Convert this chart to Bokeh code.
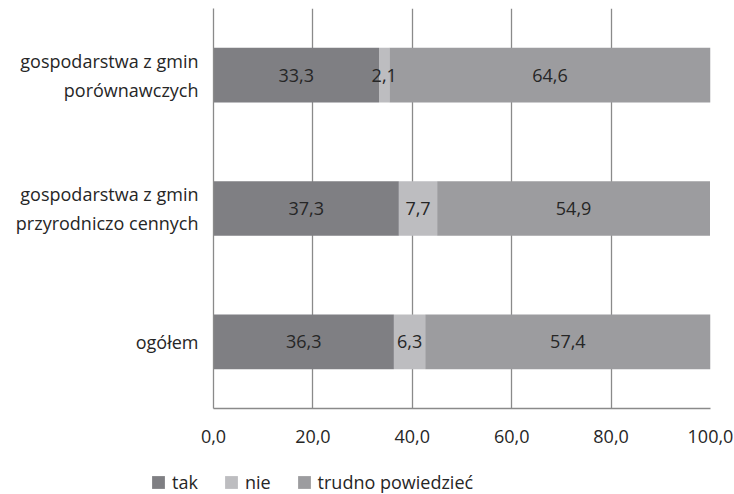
from bokeh.plotting import figure
from bokeh.models import (ColumnDataSource, FixedTicker, CustomJSTickFormatter,
                          Legend, LegendItem, Range1d, FactorRange)
from bokeh.core.properties import value
from bokeh.embed import file_html
from bokeh.resources import INLINE
import numpy as np

categories = ["ogółem",
              "gospodarstwa z gmin\nprzyrodniczo cennych",
              "gospodarstwa z gmin\nporównawczych"]
tak = [36.3, 37.3, 33.3]
nie = [6.3, 7.7, 2.1]
trudno = [57.4, 54.9, 64.6]
series_names = ["tak", "nie", "trudno powiedzieć"]
colors = ["#7f7f83", "#bdbdc0", "#9c9c9f"]
x_ticks = [0, 20, 40, 60, 80, 100]

FONT = "Open Sans"
FS = "18px"
TXT = "#262626"
GRID = "#8a8a8a"

src = ColumnDataSource(dict(cat=categories, tak=tak, nie=nie, trudno=trudno))

p = figure(width=734, height=455, output_backend="svg", toolbar_location=None,
           y_range=FactorRange(factors=categories, range_padding=0),
           x_range=Range1d(0, 100),
           min_border_left=213, min_border_right=24, min_border_top=8,
           min_border_bottom=47)
p.outline_line_color = None
p.background_fill_color = "white"
p.border_fill_color = "white"

rs = p.hbar_stack(["tak", "nie", "trudno"], y="cat", height=0.41, color=colors,
                  line_color=None, source=src)

# labels
t = np.array(tak); n = np.array(nie); tr = np.array(trudno)
centers = np.concatenate([t / 2, t + n / 2, t + n + tr / 2])
vals = np.concatenate([t, n, tr])
lab_src = ColumnDataSource(dict(
    x=centers,
    y=categories * 3,
    text=[f"{v:.1f}".replace(".", ",") for v in vals]))
p.text(x="x", y="y", text="text", source=lab_src, text_align="center",
       text_baseline="middle", text_font=value(FONT), text_font_size=FS,
       text_color=TXT)

# grid
p.ygrid.grid_line_color = None
p.xgrid.ticker = FixedTicker(ticks=x_ticks)
p.xgrid.grid_line_color = GRID
p.xgrid.grid_line_width = 1.3

# x axis
p.xaxis.ticker = FixedTicker(ticks=x_ticks)
p.xaxis.formatter = CustomJSTickFormatter(code="return tick.toFixed(1).replace('.', ',');")
p.xaxis.axis_line_color = GRID
p.xaxis.axis_line_width = 1.3
p.xaxis.major_tick_line_color = None
p.xaxis.minor_tick_line_color = None
p.xaxis.major_tick_out = 0
p.xaxis.major_tick_in = 0
p.xaxis.major_label_standoff = 21
p.xaxis.major_label_text_font = FONT
p.xaxis.major_label_text_font_size = FS
p.xaxis.major_label_text_color = TXT

# y axis
p.yaxis.axis_line_color = GRID
p.yaxis.axis_line_width = 1.3
p.yaxis.major_tick_line_color = None
p.yaxis.minor_tick_line_color = None
p.yaxis.major_tick_out = 0
p.yaxis.major_tick_in = 0
p.yaxis.major_label_standoff = 15
p.yaxis.major_label_text_font = FONT
p.yaxis.major_label_text_font_size = FS
p.yaxis.major_label_text_color = TXT
p.yaxis.major_label_text_align = "right"

# legend strip: a separate small figure under the chart; its renderers reuse
# the same data but are hidden, only their legend entries are shown
p2 = figure(width=734, height=39, output_backend="svg", toolbar_location=None,
            x_range=Range1d(0, 100),
            y_range=FactorRange(factors=categories),
            min_border_left=0, min_border_right=0, min_border_top=0,
            min_border_bottom=0)
p2.axis.visible = False
p2.grid.visible = False
p2.outline_line_color = None
p2.background_fill_color = "white"
p2.border_fill_color = "white"
leg_rs = p2.hbar_stack(["tak", "nie", "trudno"], y="cat", height=0.41, color=colors,
                       line_color=None, source=src)
for r in leg_rs:
    r.visible = False
legend = Legend(items=[LegendItem(label=nm, renderers=[r]) for nm, r in zip(series_names, leg_rs)],
                orientation="horizontal", location=(150, 0),
                glyph_width=16, glyph_height=16, label_standoff=6, spacing=25,
                padding=0, margin=0, border_line_color=None,
                background_fill_alpha=0, inactive_fill_alpha=0,
                label_text_font=FONT, label_text_font_size=FS, label_text_color=TXT)
p2.add_layout(legend, "center")

open("out.html", "w").write(file_html([p, p2], INLINE))
